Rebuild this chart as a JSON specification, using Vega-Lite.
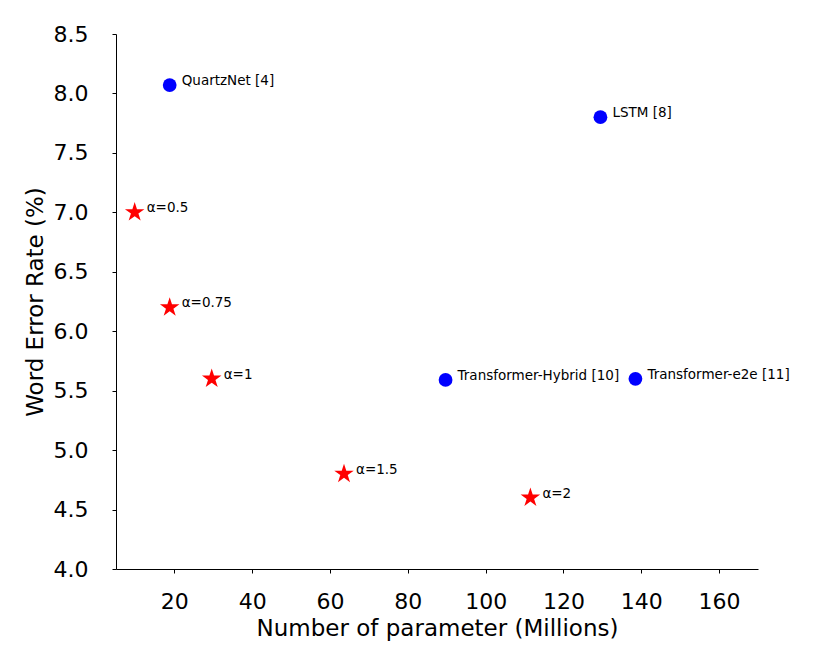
{
  "$schema": "https://vega.github.io/schema/vega-lite/v6.json",
  "autosize": "none",
  "padding": {"left": 116, "top": 34, "right": 72, "bottom": 95},
  "width": 642,
  "height": 535,
  "background": "white",
  "data": {
    "values": [
      {"model": "QuartzNet [4]", "params": 18.8, "wer": 8.07, "kind": "baseline"},
      {"model": "LSTM [8]", "params": 129.5, "wer": 7.8, "kind": "baseline"},
      {"model": "Transformer-Hybrid [10]", "params": 89.7, "wer": 5.59, "kind": "baseline"},
      {"model": "Transformer-e2e [11]", "params": 138.5, "wer": 5.6, "kind": "baseline"},
      {"model": "α=0.5", "params": 9.8, "wer": 7.0, "kind": "ours"},
      {"model": "α=0.75", "params": 18.8, "wer": 6.2, "kind": "ours"},
      {"model": "α=1", "params": 29.6, "wer": 5.6, "kind": "ours"},
      {"model": "α=1.5", "params": 63.6, "wer": 4.8, "kind": "ours"},
      {"model": "α=2", "params": 111.5, "wer": 4.6, "kind": "ours"}
    ]
  },
  "encoding": {
    "x": {
      "field": "params",
      "type": "quantitative",
      "title": "Number of parameter (Millions)",
      "scale": {"domain": [5, 170], "nice": false, "zero": false},
      "axis": {
        "grid": false,
        "values": [20, 40, 60, 80, 100, 120, 140, 160],
        "labelPadding": 18,
        "titlePadding": 5
      }
    },
    "y": {
      "field": "wer",
      "type": "quantitative",
      "title": "Word Error Rate (%)",
      "scale": {"domain": [4, 8.5], "nice": false, "zero": false},
      "axis": {
        "grid": false,
        "values": [4.0, 4.5, 5.0, 5.5, 6.0, 6.5, 7.0, 7.5, 8.0, 8.5],
        "format": ".1f",
        "labelPadding": 24,
        "titlePadding": 6
      }
    }
  },
  "layer": [
    {
      "mark": {"type": "point", "filled": true, "opacity": 1},
      "encoding": {
        "shape": {
          "field": "kind",
          "type": "nominal",
          "scale": {
            "domain": ["baseline", "ours"],
            "range": ["circle", "M0,-1L0.2245,-0.309L0.951,-0.309L0.363,0.118L0.588,0.809L0,0.382L-0.588,0.809L-0.363,0.118L-0.951,-0.309L-0.2245,-0.309Z"]
          },
          "legend": null
        },
        "color": {
          "field": "kind",
          "type": "nominal",
          "scale": {"domain": ["baseline", "ours"], "range": ["#0000ff", "#ff0000"]},
          "legend": null
        },
        "size": {
          "field": "kind",
          "type": "nominal",
          "scale": {"domain": ["baseline", "ours"], "range": [190, 420]},
          "legend": null
        }
      }
    },
    {
      "mark": {
        "type": "text",
        "align": "left",
        "baseline": "middle",
        "dx": 12,
        "dy": -4,
        "fontSize": 13.5,
        "color": "black"
      },
      "encoding": {
        "text": {"field": "model", "type": "nominal"}
      }
    }
  ],
  "config": {
    "font": "DejaVu Sans",
    "view": {"stroke": null},
    "axis": {
      "domainColor": "black",
      "tickColor": "black",
      "tickSize": 4,
      "labelColor": "black",
      "labelFontSize": 22,
      "titleColor": "black",
      "titleFontSize": 23,
      "titleFontWeight": "normal"
    }
  }
}
